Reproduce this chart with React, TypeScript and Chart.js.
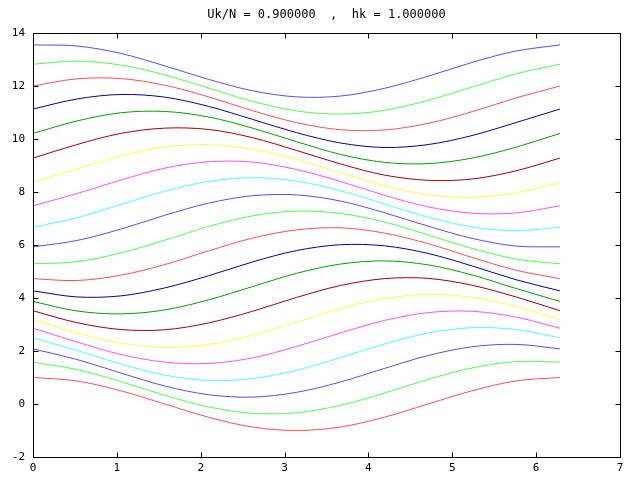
import React, { useEffect, useRef } from "react";
import { Chart, registerables } from "chart.js";

Chart.register(...registerables);

const TITLE = "Uk/N = 0.900000  ,  hk = 1.000000";

const X_VALUES = [0, 0.5236, 1.0472, 1.5708, 2.0944, 2.618, 3.1416, 3.6652, 4.1888, 4.7124, 5.236, 5.7596, 6.2832];

const X_TICKS = [0, 1, 2, 3, 4, 5, 6, 7];
const Y_TICKS = [-2, 0, 2, 4, 6, 8, 10, 12, 14];

const LINE_00 = [1.0, 0.87, 0.5, 0.0, -0.5, -0.87, -1.0, -0.87, -0.5, 0.0, 0.5, 0.87, 1.0];
const LINE_01 = [1.58, 1.3, 0.85, 0.33, -0.11, -0.35, -0.33, -0.05, 0.41, 0.93, 1.36, 1.6, 1.58];
const LINE_02 = [2.08, 1.68, 1.17, 0.68, 0.35, 0.26, 0.44, 0.83, 1.34, 1.83, 2.16, 2.25, 2.08];
const LINE_03 = [2.5, 2.02, 1.51, 1.09, 0.89, 0.96, 1.27, 1.75, 2.26, 2.68, 2.88, 2.81, 2.5];
const LINE_04 = [2.86, 2.34, 1.87, 1.58, 1.53, 1.74, 2.17, 2.68, 3.15, 3.45, 3.5, 3.28, 2.86];
const LINE_05 = [3.19, 2.68, 2.3, 2.14, 2.25, 2.6, 3.09, 3.6, 3.98, 4.14, 4.03, 3.68, 3.19];
const LINE_06 = [3.52, 3.07, 2.81, 2.8, 3.06, 3.5, 4.02, 4.47, 4.73, 4.74, 4.48, 4.04, 3.52];
const LINE_07 = [3.87, 3.51, 3.4, 3.55, 3.93, 4.43, 4.93, 5.28, 5.4, 5.25, 4.87, 4.36, 3.87];
const LINE_08 = [4.27, 4.04, 4.08, 4.38, 4.84, 5.36, 5.79, 6.01, 5.97, 5.68, 5.21, 4.69, 4.27];
const LINE_09 = [4.73, 4.66, 4.86, 5.26, 5.78, 6.26, 6.57, 6.65, 6.45, 6.05, 5.53, 5.05, 4.73];
const LINE_10 = [5.29, 5.37, 5.7, 6.18, 6.7, 7.1, 7.28, 7.19, 6.87, 6.38, 5.87, 5.47, 5.29];
const LINE_11 = [5.93, 6.17, 6.6, 7.12, 7.58, 7.86, 7.89, 7.66, 7.22, 6.71, 6.25, 5.96, 5.93];
const LINE_12 = [6.67, 7.03, 7.53, 8.03, 8.4, 8.54, 8.41, 8.05, 7.55, 7.05, 6.68, 6.54, 6.67];
const LINE_13 = [7.48, 7.94, 8.45, 8.9, 9.14, 9.13, 8.85, 8.4, 7.88, 7.44, 7.2, 7.21, 7.48];
const LINE_14 = [8.36, 8.87, 9.36, 9.7, 9.79, 9.62, 9.23, 8.73, 8.24, 7.9, 7.8, 7.97, 8.36];
const LINE_15 = [9.28, 9.79, 10.21, 10.41, 10.36, 10.05, 9.57, 9.06, 8.64, 8.44, 8.49, 8.8, 9.28];
const LINE_16 = [10.21, 10.68, 10.99, 11.04, 10.83, 10.41, 9.9, 9.42, 9.12, 9.07, 9.28, 9.69, 10.21];
const LINE_17 = [11.13, 11.51, 11.68, 11.58, 11.23, 10.74, 10.24, 9.85, 9.68, 9.79, 10.13, 10.62, 11.13];
const LINE_18 = [12.0, 12.27, 12.28, 12.03, 11.59, 11.07, 10.62, 10.35, 10.34, 10.59, 11.03, 11.55, 12.0];
const LINE_19 = [12.82, 12.94, 12.79, 12.42, 11.92, 11.42, 11.06, 10.94, 11.08, 11.46, 11.96, 12.46, 12.82];
const LINE_20 = [13.55, 13.51, 13.23, 12.76, 12.25, 11.82, 11.59, 11.62, 11.91, 12.37, 12.89, 13.32, 13.55];

const STREAMLINES = [
  LINE_00, LINE_01, LINE_02, LINE_03, LINE_04, LINE_05, LINE_06,
  LINE_07, LINE_08, LINE_09, LINE_10, LINE_11, LINE_12, LINE_13,
  LINE_14, LINE_15, LINE_16, LINE_17, LINE_18, LINE_19, LINE_20,
];

const PALETTE = [
  "#ff5050", "#50ff50", "#5050ff", "#50ffff", "#ff50ff",
  "#ffff50", "#a00000", "#00a000", "#0000a0",
];

const MONO = "'DejaVu Sans Mono', monospace";

const framePlugin = {
  id: "frame",
  afterDraw(chart: any) {
    const { ctx, chartArea, scales } = chart;
    const { left, right, top, bottom } = chartArea;
    const L = Math.round(left) + 0.5;
    const R = Math.round(right) + 0.5;
    const T = Math.round(top) + 0.5;
    const B = Math.round(bottom) + 0.5;
    const tick = 5;
    ctx.save();
    ctx.strokeStyle = "#000";
    ctx.lineWidth = 1;
    ctx.beginPath();
    ctx.rect(L, T, R - L, B - T);
    const xs = scales.x;
    xs.ticks.forEach((t: any) => {
      const px = Math.round(xs.getPixelForValue(t.value)) + 0.5;
      ctx.moveTo(px, B);
      ctx.lineTo(px, B - tick);
      ctx.moveTo(px, T);
      ctx.lineTo(px, T + tick);
    });
    const ys = scales.y;
    ys.ticks.forEach((t: any) => {
      const py = Math.round(ys.getPixelForValue(t.value)) + 0.5;
      ctx.moveTo(L, py);
      ctx.lineTo(L + tick, py);
      ctx.moveTo(R, py);
      ctx.lineTo(R - tick, py);
    });
    ctx.stroke();
    ctx.fillStyle = "#000";
    ctx.font = `12px ${MONO}`;
    ctx.textAlign = "center";
    ctx.textBaseline = "middle";
    ctx.fillText(TITLE, (left + right) / 2, 15);
    ctx.restore();
  },
};

export default function App() {
  const ref = useRef<HTMLCanvasElement | null>(null);

  useEffect(() => {
    if (!ref.current) return;
    const datasets = STREAMLINES.map((ys, i) => ({
      label: `line ${i}`,
      data: X_VALUES.map((x, j) => ({ x, y: ys[j] })),
      borderColor: PALETTE[i % PALETTE.length],
      backgroundColor: PALETTE[i % PALETTE.length],
      borderWidth: 1,
      pointRadius: 0,
      tension: 0.33,
      fill: false,
    }));
    const chart = new Chart(ref.current, {
      type: "line",
      data: { datasets },
      options: {
        animation: false,
        responsive: false,
        devicePixelRatio: 1,
        layout: { padding: { left: 0, right: 20, top: 33, bottom: 0 } },
        plugins: {
          legend: { display: false },
          title: { display: false },
          tooltip: { enabled: false },
        },
        scales: {
          x: {
            type: "linear",
            min: 0,
            max: 7,
            afterBuildTicks: (scale: any) => {
              scale.ticks = X_TICKS.map((v) => ({ value: v }));
            },
            afterFit: (scale: any) => {
              scale.height = 23;
            },
            grid: { display: false, drawTicks: false },
            border: { display: false },
            ticks: {
              padding: 5,
              color: "#000",
              font: { family: MONO, size: 11 },
              maxRotation: 0,
              autoSkip: false,
              callback: (v: any) => String(v),
            },
          },
          y: {
            type: "linear",
            min: -2,
            max: 14,
            afterBuildTicks: (scale: any) => {
              scale.ticks = Y_TICKS.map((v) => ({ value: v }));
            },
            afterFit: (scale: any) => {
              scale.width = 33;
            },
            grid: { display: false, drawTicks: false },
            border: { display: false },
            ticks: {
              padding: 8,
              color: "#000",
              font: { family: MONO, size: 11 },
              autoSkip: false,
              callback: (v: any) => String(v),
            },
          },
        },
      },
      plugins: [framePlugin],
    });
    return () => chart.destroy();
  }, []);

  return (
    <div style={{ position: "fixed", left: 0, top: 0, width: 640, height: 480, background: "#fff" }}>
      <canvas ref={ref} width={640} height={480} style={{ width: 640, height: 480, display: "block" }} />
    </div>
  );
}
